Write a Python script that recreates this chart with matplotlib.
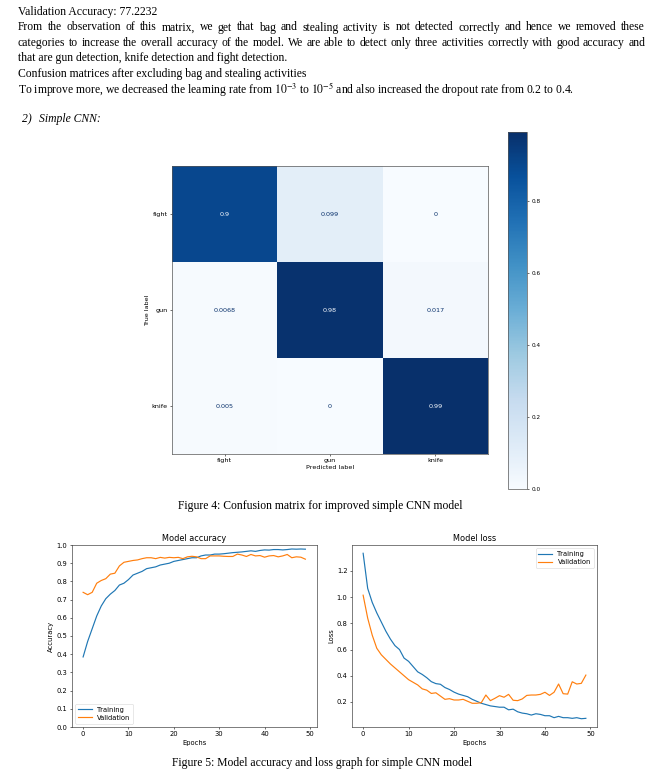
import numpy as np
import matplotlib
matplotlib.use("Agg")
import matplotlib.pyplot as plt

# ---------------- data ----------------
cm_labels = ["fight", "gun", "knife"]
cm_values = [[0.9, 0.099, 0.0],
             [0.0068, 0.98, 0.017],
             [0.005, 0.0, 0.99]]

epochs = list(range(50))
train_acc = [0.385, 0.47, 0.54, 0.61, 0.665, 0.705, 0.73, 0.75, 0.78, 0.79,
             0.81, 0.835, 0.845, 0.855, 0.87, 0.875, 0.88, 0.89, 0.895, 0.90,
             0.91, 0.915, 0.92, 0.925, 0.93, 0.93, 0.94, 0.945, 0.945, 0.95,
             0.95, 0.952, 0.955, 0.958, 0.96, 0.962, 0.965, 0.968, 0.965, 0.97,
             0.973, 0.972, 0.975, 0.975, 0.973, 0.975, 0.978, 0.977, 0.978, 0.977]
val_acc = [0.74, 0.727, 0.74, 0.79, 0.805, 0.815, 0.84, 0.845, 0.885, 0.905,
           0.91, 0.915, 0.918, 0.925, 0.93, 0.93, 0.925, 0.932, 0.928, 0.932,
           0.93, 0.932, 0.925, 0.935, 0.938, 0.935, 0.925, 0.925, 0.94, 0.94,
           0.94, 0.938, 0.937, 0.937, 0.95, 0.945, 0.937, 0.948, 0.94, 0.942,
           0.933, 0.94, 0.942, 0.935, 0.94, 0.948, 0.93, 0.935, 0.933, 0.922]
train_loss = [1.335, 1.067, 0.96, 0.88, 0.81, 0.74, 0.68, 0.63, 0.60, 0.535,
              0.51, 0.47, 0.43, 0.41, 0.385, 0.355, 0.34, 0.335, 0.31, 0.295,
              0.275, 0.26, 0.25, 0.24, 0.22, 0.205, 0.19, 0.18, 0.17, 0.165,
              0.16, 0.16, 0.14, 0.145, 0.125, 0.115, 0.11, 0.10, 0.11, 0.105,
              0.095, 0.095, 0.08, 0.09, 0.08, 0.08, 0.075, 0.08, 0.072, 0.075]
val_loss = [1.015, 0.84, 0.71, 0.61, 0.56, 0.525, 0.49, 0.46, 0.43, 0.40,
            0.37, 0.35, 0.33, 0.30, 0.29, 0.265, 0.27, 0.245, 0.22, 0.225,
            0.215, 0.215, 0.22, 0.205, 0.19, 0.19, 0.195, 0.253, 0.21, 0.228,
            0.248, 0.236, 0.258, 0.213, 0.21, 0.223, 0.25, 0.253, 0.253, 0.258,
            0.274, 0.25, 0.274, 0.337, 0.263, 0.26, 0.354, 0.337, 0.342, 0.405]

para_lines = [
    "From the observation of this matrix, we get that bag and stealing activity is not detected correctly and hence we removed these",
    "categories to increase the overall accuracy of the model. We are able to detect only three activities correctly with good accuracy and",
]
plain_lines = [
    "Validation Accuracy: 77.2232",
    "that are gun detection, knife detection and fight detection.",
    "Confusion matrices after excluding bag and stealing activities",
    r"To improve more, we decreased the learning rate from $10^{-3}$ to $10^{-5}$ and also increased the dropout rate from 0.2 to 0.4.",
]
caption4 = "Figure 4: Confusion matrix for improved simple CNN model"
caption5 = "Figure 5: Model accuracy and loss graph for simple CNN model"

# ---------------- figure ----------------
W, H = 660, 778
plt.rcParams["mathtext.fontset"] = "stix"
fig = plt.figure(figsize=(W / 100, H / 100), dpi=100)
fig.patch.set_facecolor("white")
SERIF = ["Liberation Serif", "DejaVu Serif"]
r = fig.canvas.get_renderer()


def fx(x):
    return x / W


def fy(y):
    return 1 - y / H


def box(l, t, rgt, b):
    return [fx(l), fy(b), (rgt - l) / W, (b - t) / H]


# font size fitted to caption width
tmp = fig.text(0, 0, caption4, fontsize=10, family=SERIF)
w10 = tmp.get_window_extent(renderer=r).width
tmp.remove()
FS = 10 * 284 / w10


def justify(text, x0, x1, y):
    words = text.split()
    ts, ws = [], []
    for w in words:
        t = fig.text(0, 0, w, fontsize=FS, family=SERIF, ha="left", va="baseline")
        ws.append(t.get_window_extent(renderer=r).width)
        ts.append(t)
    gap = (x1 - x0 - sum(ws)) / (len(words) - 1)
    x = x0
    for t, wd in zip(ts, ws):
        t.set_position((fx(x), fy(y)))
        x += wd + gap


X0, X1 = 18, 645
fig.text(fx(X0), fy(15), plain_lines[0], fontsize=FS, family=SERIF, va="baseline")
justify(para_lines[0], X0, X1, 30.5)
justify(para_lines[1], X0, X1, 46)
fig.text(fx(X0), fy(61.5), plain_lines[1], fontsize=FS, family=SERIF, va="baseline")
fig.text(fx(X0), fy(77), plain_lines[2], fontsize=FS, family=SERIF, va="baseline")
fig.text(fx(X0), fy(92.5), plain_lines[3], fontsize=FS, family=SERIF, va="baseline")
fig.text(fx(22), fy(122), "2)", fontsize=FS, family=SERIF, style="italic", va="baseline")
fig.text(fx(39), fy(122), "Simple CNN:", fontsize=FS, family=SERIF, style="italic", va="baseline")

fig.text(fx(320), fy(509), caption4, fontsize=FS, family=SERIF, ha="center", va="baseline")
fig.text(fx(322), fy(766), caption5, fontsize=FS, family=SERIF, ha="center", va="baseline")

# ---------------- confusion matrix ----------------
SF = 4.6
cm = np.array(cm_values)
axm = fig.add_axes(box(172, 166, 488, 454))
cmap = plt.get_cmap("Blues")
im = axm.imshow(cm, cmap=cmap, aspect="auto", vmin=cm.min(), vmax=cm.max(),
                interpolation="nearest")
thresh = (cm.max() + cm.min()) / 2
for i in range(cm.shape[0]):
    for j in range(cm.shape[1]):
        col = cmap(0.0) if cm[i, j] > thresh else cmap(1.0)
        axm.text(j, i, format(cm[i, j], ".2g"), ha="center", va="center",
                 fontsize=SF, color=col)
axm.set_xticks(range(len(cm_labels)))
axm.set_xticklabels(cm_labels)
axm.set_yticks(range(len(cm_labels)))
axm.set_yticklabels(cm_labels)
axm.set_xlabel("Predicted label", fontsize=SF, labelpad=1)
axm.set_ylabel("True label", fontsize=SF, labelpad=1)
axm.tick_params(labelsize=SF, length=1.7, width=0.4, pad=1.5)
for s in axm.spines.values():
    s.set_linewidth(0.5)
    s.set_color("#555555")

cax = fig.add_axes(box(508, 132, 527, 489))
cb = fig.colorbar(im, cax=cax, ticks=[0.0, 0.2, 0.4, 0.6, 0.8])
cb.ax.tick_params(labelsize=SF * 0.9, length=1.7, width=0.4, pad=1.5)
cb.outline.set_linewidth(0.5)
cb.outline.set_edgecolor("#555555")

# ---------------- accuracy / loss ----------------
PF = 4.9
TF = 5.9
LW = 0.85


def style(ax):
    ax.tick_params(labelsize=PF, length=1.7, width=0.4, pad=1.5)
    for s in ax.spines.values():
        s.set_linewidth(0.45)
        s.set_color("#333333")


axa = fig.add_axes(box(72, 545, 316.5, 727))
axa.plot(epochs, train_acc, color="#1f77b4", lw=LW, label="Training")
axa.plot(epochs, val_acc, color="#ff7f0e", lw=LW, label="Validation")
axa.set_ylim(0, 1.0)
axa.set_yticks(np.arange(0, 1.01, 0.1))
axa.set_title("Model accuracy", fontsize=TF, pad=3)
axa.set_xlabel("Epochs", fontsize=PF, labelpad=1.5)
axa.set_ylabel("Accuracy", fontsize=PF, labelpad=2)
axa.legend(loc="lower left", fontsize=PF, handlelength=2, frameon=True,
           fancybox=True, framealpha=0.8, borderpad=0.4, labelspacing=0.3)
style(axa)

axl = fig.add_axes(box(352, 545, 597, 727))
axl.plot(epochs, train_loss, color="#1f77b4", lw=LW, label="Training")
axl.plot(epochs, val_loss, color="#ff7f0e", lw=LW, label="Validation")
axl.set_title("Model loss", fontsize=TF, pad=3)
axl.set_xlabel("Epochs", fontsize=PF, labelpad=1.5)
axl.set_ylabel("Loss", fontsize=PF, labelpad=2)
axl.legend(loc="upper right", fontsize=PF, handlelength=2, frameon=True,
           fancybox=True, framealpha=0.8, borderpad=0.4, labelspacing=0.3)
style(axl)

for lg in (axa.get_legend(), axl.get_legend()):
    lg.get_frame().set_linewidth(0.4)

fig.savefig("out.png", dpi=100, facecolor="white")
